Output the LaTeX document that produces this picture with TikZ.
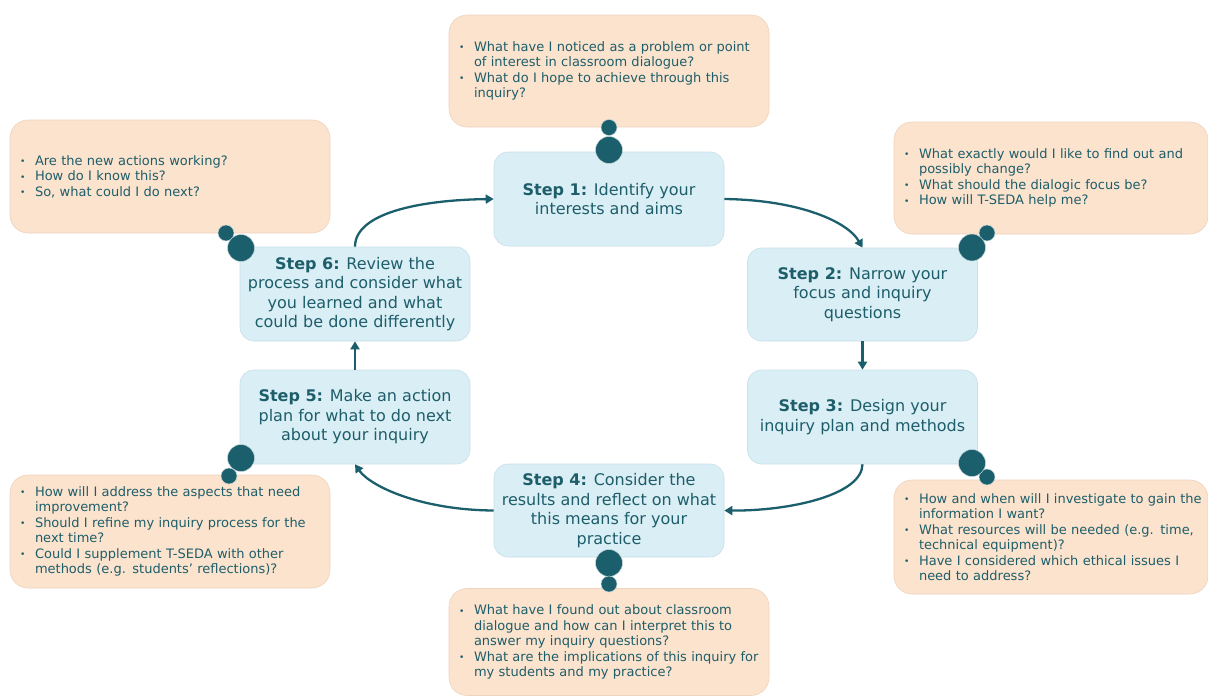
\documentclass[tikz,border=0pt]{standalone}
\usepackage{fontspec}
\setmainfont{DejaVu Sans}
\usetikzlibrary{arrows.meta}
\definecolor{teal1}{HTML}{1B5F6C}
\definecolor{txt}{HTML}{1D5E6A}
\definecolor{stepfill}{HTML}{DAEEF5}
\definecolor{stepline}{HTML}{C8DFE8}
\definecolor{callfill}{HTML}{FCE3CD}
\definecolor{callline}{HTML}{EED3BE}
\newcommand{\Bul}{\makebox[15pt][l]{\raisebox{0.5pt}{\small •}}}
\newcommand{\Ind}{\hspace*{15pt}}
\tikzset{
  stepbox/.style={draw=stepline, line width=0.6pt, fill=stepfill, rounded corners=14pt,
    minimum width=230pt, minimum height=94pt, inner sep=0pt, align=center, text=txt,
    font=\fontsize{16pt}{19.5pt}\selectfont},
  callbox/.style={draw=callline, line width=0.6pt, fill=callfill, rounded corners=18pt,
    minimum height=112pt, inner xsep=10pt, inner ysep=0pt, align=left, text=txt,
    font=\fontsize{13pt}{15.5pt}\selectfont},
  bigdot/.style={circle, fill=teal1, draw=white!75!teal1, line width=0.5pt, minimum size=27pt, inner sep=0pt},
  smalldot/.style={circle, fill=teal1, draw=white!75!teal1, line width=0.5pt, minimum size=16pt, inner sep=0pt},
  flow/.style={draw=teal1, line width=2.3pt, -{Triangle[length=8pt,width=9pt]}}
}
\begin{document}
\begin{tikzpicture}[x=1pt,y=-1pt]
\useasboundingbox (0,0) rectangle (1208,696);
% callouts
\node[callbox, text width=300pt] (c1) at (609,71) {\Bul What have I noticed as a problem or point\\ \Ind of interest in classroom dialogue?\\ \Bul What do I hope to achieve through this\\ \Ind inquiry?};
\node[callbox, text width=294pt] (c2) at (1051,178) {\Bul What exactly would I like to find out and\\ \Ind possibly change?\\ \Bul What should the dialogic focus be?\\ \Bul How will T-SEDA help me?};
\node[callbox, text width=294pt, minimum height=114pt] (c3) at (1051,537) {\mbox{\Bul How and when will I investigate to gain the}\\ \Ind information I want?\\ \Bul What resources will be needed (e.g. time,\\ \Ind technical equipment)?\\ \Bul Have I considered which ethical issues I\\ \Ind need to address?};
\node[callbox, text width=300pt, minimum height=107pt] (c4) at (609,642) {\Bul What have I found out about classroom\\ \Ind dialogue and how can I interpret this to\\ \Ind answer my inquiry questions?\\ \Bul What are the implications of this inquiry for\\ \Ind my students and my practice?};
\node[callbox, text width=300pt, minimum height=113pt] (c5) at (170,531.5) {\Bul How will I address the aspects that need\\ \Ind improvement?\\ \Bul Should I refine my inquiry process for the\\ \Ind next time?\\ \Bul Could I supplement T-SEDA with other\\ \Ind methods (e.g. students’ reflections)?};
\node[callbox, text width=300pt, minimum height=113pt] (c6) at (170,176.5) {\Bul Are the new actions working?\\ \Bul How do I know this?\\ \Bul So, what could I do next?};
% steps
\node[stepbox] (s1) at (609,199) {\textbf{Step 1:} Identify your\\ interests and aims};
\node[stepbox, minimum height=93pt] (s2) at (862.5,294.5) {\textbf{Step 2:} Narrow your\\ focus and inquiry\\ questions};
\node[stepbox] (s3) at (862.5,417) {\textbf{Step 3:} Design your\\ inquiry plan and methods};
\node[stepbox, minimum height=93pt] (s4) at (609,510.5) {\textbf{Step 4:} Consider the\\ results and reflect on what\\ this means for your\\ practice};
\node[stepbox] (s5) at (355,417) {\textbf{Step 5:} Make an action\\ plan for what to do next\\ about your inquiry};
\node[stepbox] (s6) at (355,294) {\textbf{Step 6:} Review the\\ process and consider what\\ you learned and what\\ could be done differently};
% connectors
\draw[flow] (s1.east) .. controls (800,200) and (848,222) .. (s2.north);
\draw[flow] (s2.south) -- (s3.north);
\draw[flow] (s3.south) .. controls (862,495) and (790,511) .. (s4.east);
\draw[flow] (s4.west) .. controls (420,510) and (370,486) .. (s5.south);
\draw[flow] (s5.north) -- (s6.north |- s6.south);
\draw[flow] (s6.north) .. controls (355,213) and (420,200) .. (s1.west);
% bubbles
\node[smalldot] (d1a) at (609,127.5) {};
\node[bigdot] (d1b) at (609,150) {};
\node[smalldot] (d2a) at (987,233) {};
\node[bigdot] (d2b) at (972,247.5) {};
\node[smalldot] (d3a) at (987,477) {};
\node[bigdot] (d3b) at (972,463) {};
\node[bigdot] (d4b) at (609,563) {};
\node[smalldot] (d4a) at (609,584) {};
\node[smalldot] (d5a) at (229,476) {};
\node[bigdot] (d5b) at (241,458) {};
\node[smalldot] (d6a) at (226,233) {};
\node[bigdot] (d6b) at (241,248) {};
\end{tikzpicture}
\end{document}
